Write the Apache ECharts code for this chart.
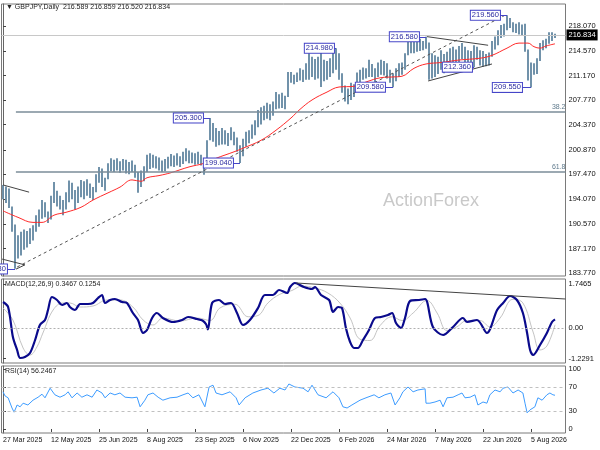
<!DOCTYPE html>
<html><head><meta charset="utf-8">
<script src="https://cdn.jsdelivr.net/npm/echarts@6/dist/echarts.min.js"></script>
<style>html,body{margin:0;padding:0;background:#fff}#c{width:600px;height:450px}</style>
</head><body><div id="c"></div><script>
// ---- data (2-day bars, index 0 = 27 Mar 2025) ----
const xLabels = ['27 Mar 2025','12 May 2025','25 Jun 2025','8 Aug 2025','23 Sep 2025','6 Nov 2025','22 Dec 2025','6 Feb 2026','24 Mar 2026','7 May 2026','22 Jun 2026','5 Aug 2026'];
const labelIdx = [0,16,32,48,64,80,96,112,128,144,160,176];
const highs = [196.0,195.8,195.5,193.0,190.5,189.0,189.5,189.8,189.6,190.0,
190.4,191.8,192.6,193.9,193.6,192.3,194.5,196.4,195.2,194.5,
193.9,195.0,196.6,196.3,195.3,195.8,196.7,196.5,196.8,196.2,
195.7,197.5,198.5,198.3,197.0,199.0,199.7,199.5,199.7,199.3,
199.6,199.5,199.2,199.4,198.8,197.8,198.0,198.6,200.2,200.4,
200.2,200.0,199.8,199.4,199.6,199.9,200.3,200.1,200.4,200.0,
200.6,201.1,200.8,200.5,200.4,200.6,200.2,199.6,202.2,205.3,
204.6,203.9,203.5,203.9,203.6,203.2,204.0,203.4,202.6,201.5,
202.4,203.4,203.6,204.4,205.0,206.4,206.8,207.0,207.4,207.2,
207.6,208.9,208.6,208.8,208.4,211.7,211.7,211.3,211.6,212.2,
212.0,212.9,214.3,213.8,213.5,213.8,214.5,213.4,213.2,213.6,
214.5,214.98,214.3,211.5,209.8,209.4,210.2,210.0,211.6,212.0,
212.3,212.2,213.4,212.8,212.2,213.0,213.4,213.2,212.9,212.0,
211.5,212.2,212.9,213.0,214.3,216.2,216.4,216.0,216.1,216.3,
216.0,216.58,215.8,214.3,214.0,213.8,214.7,214.2,214.5,215.0,
215.2,214.8,215.3,215.7,215.2,214.7,214.6,215.4,215.2,214.7,
214.6,214.2,214.4,216.0,216.6,217.5,218.2,218.4,219.56,219.2,
218.6,218.4,218.6,218.3,218.4,214.8,213.0,212.9,213.6,215.7,
216.1,216.3,217.2,217.2,217.0];
const lows = [194.0,193.5,192.8,189.5,184.35,185.8,186.2,187.0,187.3,187.8,
188.3,189.5,190.2,191.3,191.5,190.7,191.2,193.5,193.0,192.6,
191.8,192.6,193.6,194.0,192.6,193.5,194.3,194.0,194.5,194.2,
193.9,195.0,196.3,195.7,195.2,196.8,197.9,197.8,198.0,197.7,
198.0,197.6,197.5,197.8,197.0,194.9,195.7,196.5,197.8,198.2,
198.4,198.3,198.0,197.8,197.9,198.3,198.6,198.5,198.7,198.5,
198.9,199.3,199.0,199.0,198.8,198.9,198.7,197.4,198.8,202.2,
202.0,201.3,201.5,201.6,201.6,201.4,202.2,201.5,200.6,199.04,
200.0,201.3,201.8,202.4,202.9,204.0,204.4,205.0,205.2,205.0,
205.6,206.5,206.6,206.7,206.5,208.2,210.2,210.0,210.3,210.5,
210.3,210.6,210.6,211.0,210.6,210.8,209.6,210.4,210.6,211.0,
211.5,212.0,210.6,208.8,207.6,207.2,207.8,208.2,209.2,209.6,
210.6,210.8,211.0,211.0,210.2,211.0,211.3,211.2,210.8,210.2,
209.58,210.4,211.0,211.3,212.0,214.0,214.3,214.3,214.5,214.6,
214.7,214.9,210.6,210.8,211.0,211.4,212.0,211.5,212.2,212.6,
213.0,212.6,212.9,213.5,212.9,212.4,212.6,212.36,213.4,212.6,
212.4,212.5,212.6,213.8,214.8,215.4,216.4,216.6,217.5,217.8,
217.2,217.1,216.9,216.8,214.5,210.5,209.55,211.3,211.4,213.2,
214.7,215.0,215.6,216.0,216.4];
const maPts = [[0,192.4],[5,191.5],[10,190.8],[13,190.8],[17,191.8],[21,192.2],[26,192.9],[30,193.9],[35,194.9],[39,195.7],[43,196.7],[46,196.5],[48,197.0],[52,197.3],[56,197.7],[62,198.5],[67,199.0],[71,199.7],[77,200.6],[80,201.1],[86,202.2],[91,203.6],[96,205.3],[99,206.5],[103,207.8],[108,208.9],[112,209.6],[117,209.7],[121,210.3],[126,210.9],[130,211.0],[133,211.1],[137,212.2],[141,212.8],[146,213.0],[152,213.35],[159,213.6],[163,214.0],[168,215.0],[172,215.7],[175,215.7],[177,215.2],[179,215.0],[181,215.3],[184,215.6]];
const macdMain = [[0,1.04],[1.7,0.84],[3.3,-0.36],[4.7,-0.88],[5.7,-1.2],[7.3,-1.16],[9,-1.0],[10.7,-0.48],[12.3,0.12],[14,0.32],[15,0.72],[16.3,1.24],[18,1.12],[19.7,0.92],[21.3,1.0],[22.3,0.84],[24,0.72],[25.7,0.96],[28.3,0.96],[30,1.0],[31.7,1.2],[33,1.32],[34,1.0],[35.7,1.12],[37.3,1.16],[39.7,1.04],[41.3,1.0],[43.3,0.6],[45,0.32],[46.7,-0.2],[48,-0.08],[49.7,0.4],[51.3,0.6],[53.3,0.4],[56.7,0.24],[59.7,0.32],[61.7,0.44],[64.7,0.36],[66.5,0.3],[67.7,0.15],[68.3,-0.06],[69.7,1.0],[72,1.12],[74,0.96],[76,1.0],[78,0.6],[80,0.12],[82.3,0.32],[85,0.8],[87.3,1.32],[90,1.32],[92,1.52],[94.7,1.4],[95.7,1.64],[97.3,1.8],[100.3,1.64],[103,1.56],[104,1.64],[106,1.32],[108.7,1.12],[110,0.64],[111.7,0.84],[113,0.8],[114.3,0.0],[115.7,-0.56],[117,-0.8],[118.3,-0.8],[120,-0.48],[122,-0.08],[124,0.4],[126,0.44],[128.3,0.52],[129.7,0.6],[131,0.2],[132.7,0.0],[134,0.4],[135.7,1.08],[138.7,1.12],[140.7,1.16],[143.3,0.04],[146.7,-0.28],[150,0.04],[153.3,0.4],[154.7,0.24],[158,0.32],[161.3,-0.2],[164.7,0.72],[166.7,1.0],[169,1.28],[171.3,1.12],[173.3,0.6],[174.7,-0.2],[175.7,-0.88],[176.7,-1.08],[179,-0.68],[181.3,-0.2],[183,0.24],[184,0.3467]];
const macdSignal = [[0,0.8],[3.3,0.32],[6.7,-0.8],[9,-1.08],[11.3,-0.76],[13.3,-0.2],[16.7,0.72],[20,1.0],[22.3,1.0],[25.7,0.84],[30,0.88],[34.7,1.12],[39,1.12],[43.3,0.84],[46.7,0.32],[50,0.12],[53.3,0.4],[59,0.28],[64.7,0.4],[69,0.3],[72.3,0.8],[77.3,0.95],[81.7,0.45],[85,0.5],[88.3,1.0],[92.3,1.35],[96.3,1.5],[99.7,1.68],[104,1.6],[108.3,1.4],[112.3,1.0],[115.7,0.4],[119,-0.45],[122.3,-0.5],[125.7,0.1],[129.7,0.45],[133,0.3],[136.7,0.6],[141.3,1.1],[144.7,0.6],[148,-0.1],[151.3,0.05],[154.7,0.3],[159,0.3],[162.3,0.05],[165.7,0.4],[170,1.15],[173.3,1.0],[176.7,-0.16],[179,-0.88],[181.3,-0.72],[184,0.1254]];
const rsiPts = [[0,62],[0.7,55],[1.7,52],[3,35],[3.7,28],[4.7,40],[5.7,37],[6.7,43],[8.3,40],[10,48],[11.7,53],[13,58],[14,52],[15.7,68],[17.3,57],[19,53],[20.7,57],[21.7,62],[23,52],[24.7,60],[26.3,53],[28,57],[29.7,53],[31.3,65],[33,60],[34,52],[35.7,60],[37.3,57],[39,60],[40.7,53],[43,52],[44.7,53],[45.7,37],[47.3,48],[48.3,57],[50,60],[51.7,53],[53.3,48],[55.7,52],[58,53],[60,57],[61.7,60],[63.3,52],[65.3,57],[67.3,37],[68.7,70],[70,73],[71,60],[73,57],[75.7,62],[77.7,52],[78.7,40],[80.7,52],[83.3,60],[86,65],[88.3,68],[90.3,60],[92.3,68],[94,65],[95.3,75],[97.3,70],[100,68],[101.7,62],[103,73],[105,57],[107.7,52],[110,62],[112,52],[113.3,37],[114.7,35],[116.3,40],[119,48],[121,52],[123.7,57],[125.3,52],[127.3,57],[129.3,60],[130.7,40],[132.3,52],[133.3,62],[135,70],[136.7,62],[138.3,65],[140.7,67],[141,43],[142.3,43],[144,45],[145.7,48],[146.7,37],[148,52],[150,53],[151.7,57],[153,60],[154,52],[155.7,53],[157.3,57],[158.3,40],[160,45],[161.3,43],[162.3,57],[164,65],[165.7,62],[166.7,68],[168.3,70],[170,60],[171.7,65],[173.3,60],[174,43],[174.7,27],[175.7,32],[177.3,37],[178.3,52],[179.7,48],[181.3,57],[182.3,60],[183.3,57],[184,56.2467]];
const priceTicks = [183.77,187.17,190.57,194.07,197.47,200.87,204.37,207.77,211.17,214.57,218.07];
const macdTicks = [-1.2291,0,1.7465];
const rsiTicks = [0,30,70,100];
const lastPrice = 216.834;
const fibLevels = [[206.13,'38.2'],[197.8,'61.8']];
// [bar index, price, text, gap px]
const swingLabels = [[4,184.33,'184.330',8],[69,205.3,'205.300',7],[79,199.04,'199.040',7],[111,214.98,'214.980',2],[130,209.58,'209.580',8],[141,216.58,'216.580',7],[157,212.36,'212.360',2],[168,219.56,'219.560',7],[176,209.55,'209.550',9]];
const priceTrend = [[[4.7,184.6],[167.5,219.6],'dash'],[[0,196.0],[8.7,195.0],'solid'],[[-0.3,185.7],[7.3,184.9],'solid'],[[4.3,184.3],[7.3,184.9],'solid'],[[141.3,216.6],[161.7,215.4],'solid'],[[141.7,210.44],[163,212.8],'solid']];
const macdTrend = [[97.7,1.8],[187.5,1.16]];

const FONT = 'Liberation Sans';
const chart = echarts.init(document.getElementById('c'), null, {renderer:'canvas'});
const gridStyle = {show:true, borderColor:'#7a7a7a', borderWidth:1, backgroundColor:'#fff', left:1.5, right:34.5};
const xBase = {type:'value', min:-0.5, max:187.5, splitLine:{show:false}, axisLine:{show:false}, axisTick:{show:false}, axisLabel:{show:false}};
const yBase = {type:'value', position:'right', splitLine:{show:false},
  axisLine:{show:true, lineStyle:{color:'#666'}},
  axisTick:{show:true, length:3, lineStyle:{color:'#444'}},
  axisLabel:{color:'#111', fontSize:7.5, fontFamily:FONT, margin:3}};

const bars = lows.map((l,i)=>[i,l,highs[i]]);
const lblStyle = {show:true, position:'left', color:'#2b2ba0', fontSize:7.5, fontFamily:FONT,
  backgroundColor:'#fff', borderColor:'#4545c8', borderWidth:1, padding:[1,1,0,1]};

const option = {
  animation:false,
  grid:[
    Object.assign({top:4, height:272}, gridStyle),
    Object.assign({top:279, height:84}, gridStyle),
    Object.assign({top:366, height:67}, gridStyle)
  ],
  xAxis:[
    Object.assign({gridIndex:0}, xBase),
    Object.assign({gridIndex:1}, xBase),
    Object.assign({}, xBase, {gridIndex:2,
      axisTick:{show:true, length:3, customValues:labelIdx, lineStyle:{color:'#444'}},
      axisLabel:{show:true, customValues:labelIdx, align:'left', margin:4, fontSize:7, fontFamily:FONT, color:'#111',
        formatter:v=>xLabels[Math.round(v/16)] || ''}})
  ],
  yAxis:[
    Object.assign({}, yBase, {gridIndex:0, min:183.353, max:221.131,
      axisTick:Object.assign({}, yBase.axisTick, {customValues:priceTicks}),
      axisLabel:Object.assign({}, yBase.axisLabel, {customValues:priceTicks, formatter:v=>v.toFixed(3)})}),
    Object.assign({}, yBase, {gridIndex:1, min:-1.4, max:1.96,
      axisTick:Object.assign({}, yBase.axisTick, {customValues:macdTicks}),
      axisLabel:Object.assign({}, yBase.axisLabel, {customValues:macdTicks, formatter:v=>v===0?'0.00':v.toFixed(4)})}),
    Object.assign({}, yBase, {gridIndex:2, min:-6.67, max:105,
      axisTick:Object.assign({}, yBase.axisTick, {customValues:rsiTicks}),
      axisLabel:Object.assign({}, yBase.axisLabel, {customValues:rsiTicks, formatter:v=>String(v)})})
  ],
  graphic:[
    {type:'text', left:6, top:4, style:{text:'\u25BC GBPJPY,Daily  216.589 216.859 216.520 216.834', fill:'#222', font:'7px "'+FONT+'"'}},
    {type:'text', left:5, top:281, style:{text:'MACD(12,26,9) 0.3467 0.1254', fill:'#222', font:'7px "'+FONT+'"'}},
    {type:'text', left:5, top:368, style:{text:'RSI(14) 56.2467', fill:'#222', font:'7px "'+FONT+'"'}},
    {type:'text', left:542, top:-5, style:{text:'100.0', fill:'#5f7a8c', font:'7px "'+FONT+'"'}},
    {type:'text', left:383, top:192, style:{text:'ActionForex', fill:'#c9c9c9', font:'18px "'+FONT+'"'}}
  ],
  series:[
    {type:'custom', xAxisIndex:0, yAxisIndex:0, data:bars, clip:true, encode:{x:0, y:[1,2]},
      renderItem:(params, api)=>{
        const a = api.coord([api.value(0), api.value(1)]);
        const b = api.coord([api.value(0), api.value(2)]);
        return {type:'line', shape:{x1:a[0], y1:a[1], x2:b[0], y2:b[1]}, style:{stroke:'#6a8da6', lineWidth:1.9}};
      }},
    {type:'line', name:'MA', xAxisIndex:0, yAxisIndex:0, data:maPts, smooth:0.4, showSymbol:false,
      lineStyle:{color:'#ff2a2a', width:1}, z:3,
      markLine:{silent:true, symbol:['none','none'], animation:false,
        data:[
          [{coord:[-0.5,lastPrice], lineStyle:{color:'#c8c8c8', width:1, type:'solid'},
            label:{show:true, position:'end', distance:1, formatter:lastPrice.toFixed(3), backgroundColor:'#000', color:'#fff', fontSize:7.5, fontFamily:FONT, padding:[2,2,1,2]}},
           {coord:[187.5,lastPrice]}]
        ].concat(fibLevels.map(([v,t])=>[
          {coord:[4.3,v], lineStyle:{color:'#7b8d99', width:1.5, type:'solid'},
           label:{show:true, position:'insideEndTop', distance:[0,1], formatter:t, color:'#5f7a8c', fontSize:7, fontFamily:FONT}},
          {coord:[187.5,v]}
        ])).concat(priceTrend.map(([a,b,s])=>[
          {coord:a, lineStyle:{color: s==='dash'?'#555':'#444', width:1, type: s==='dash'?[3,3]:'solid'}, label:{show:false}},
          {coord:b}
        ])).concat(swingLabels.map(([j,p,t,d])=>[
          {coord:[j-d/3,p], lineStyle:{color:'#4545c8', width:1, type:'solid'}, label:{show:false}},
          {coord:[j,p]}
        ]))
      },
      markPoint:{silent:true, symbol:'rect', symbolSize:0.1, itemStyle:{color:'rgba(0,0,0,0)'},
        data:swingLabels.map(([j,p,t,d])=>({coord:[j,p], label:Object.assign({}, lblStyle, {distance:d, formatter:t})}))}
    },
    {type:'line', xAxisIndex:1, yAxisIndex:1, data:macdSignal, smooth:0.4, showSymbol:false,
      lineStyle:{color:'#c4c4c4', width:1}, z:2,
      markLine:{silent:true, symbol:['none','none'], label:{show:false},
        data:[{yAxis:0, lineStyle:{color:'#b0b0b0', width:1, type:[2,2]}}]}},
    {type:'line', xAxisIndex:1, yAxisIndex:1, data:macdMain, smooth:0.3, showSymbol:false,
      lineStyle:{color:'#0a0a8c', width:2.2}, z:3,
      markLine:{silent:true, symbol:['none','none'], label:{show:false},
        data:[[{coord:macdTrend[0], lineStyle:{color:'#444', width:1, type:'solid'}},{coord:macdTrend[1]}]]}},
    {type:'line', xAxisIndex:2, yAxisIndex:2, data:rsiPts, showSymbol:false,
      lineStyle:{color:'#3d9cff', width:1},
      markLine:{silent:true, symbol:['none','none'], label:{show:false},
        data:[{yAxis:70, lineStyle:{color:'#c0c0c0', width:1, type:[3,3]}},{yAxis:30, lineStyle:{color:'#c0c0c0', width:1, type:[3,3]}}]}}
  ]
};
chart.setOption(option);
</script></body></html>
